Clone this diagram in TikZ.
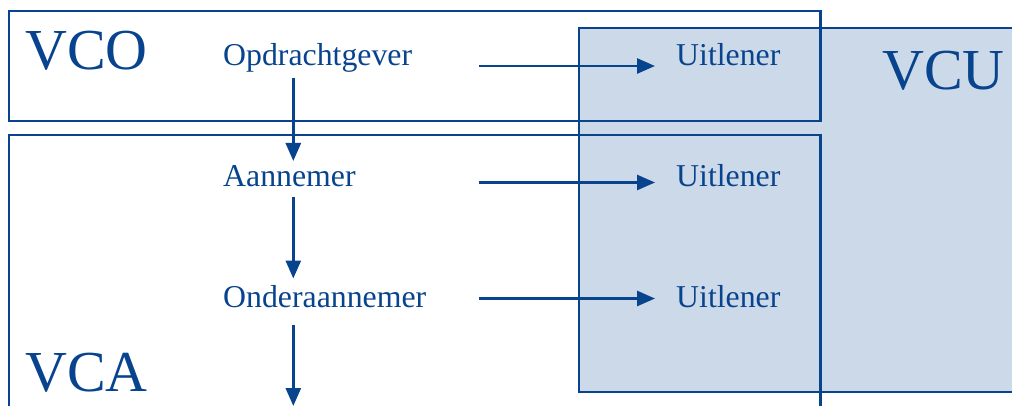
\documentclass[tikz,border=0pt]{standalone}
\usepackage{fontspec}
\setmainfont{Liberation Serif}
\usetikzlibrary{arrows.meta}
\definecolor{dblue}{RGB}{8,68,142}
\definecolor{lblue}{RGB}{204,217,232}
\begin{document}
\begin{tikzpicture}[x=1pt,y=-1pt,
  frame/.style={draw=dblue,line width=2.8pt},
  lbl/.style={text=dblue,inner sep=0pt,anchor=base west,font=\fontsize{31.8}{36}\selectfont},
  big/.style={text=dblue,inner sep=0pt,anchor=base west,font=\fontsize{58}{64}\selectfont},
  conn/.style={draw=dblue,line width=2.8pt,-{Triangle[length=18pt,width=15pt]}}]
\useasboundingbox (0,0) rectangle (1012,406);
\clip (0,0) rectangle (1012,406);
% VCU shaded box
\path[frame,fill=lblue] (579,28) rectangle (1040,392);
% VCO and VCA frames
\path[frame] (9,11) rectangle (820.5,121);
\path[frame] (9,135) rectangle (820.5,430);
% big labels
\node[big] (vco) at (25,70) {VCO};
\node[big] (vca) at (25,391) {VCA};
\node[big] (vcu) at (882,90) {VCU};
% text nodes
\node[lbl] (opd) at (223,66) {Opdrachtgever};
\node[lbl] (aan) at (223,187) {Aannemer};
\node[lbl] (ond) at (223,307) {Onderaannemer};
\node[lbl] (u1) at (676,66) {Uitlener};
\node[lbl] (u2) at (676,187) {Uitlener};
\node[lbl] (u3) at (676,307) {Uitlener};
% connector end points
\coordinate (h1s) at (479,66);   \coordinate (h1e) at (655,66);
\coordinate (h2s) at (479,182.5);\coordinate (h2e) at (655,182.5);
\coordinate (h3s) at (479,298.5);\coordinate (h3e) at (655,298.5);
\coordinate (v1s) at (293.3,78); \coordinate (v1e) at (293.3,161);
\coordinate (v2s) at (293.3,197);\coordinate (v2e) at (293.3,278.5);
\coordinate (v3s) at (293.3,325);\coordinate (v3e) at (293.3,406);
% connectors
\draw[conn] (h1s) -- (h1e);
\draw[conn] (h2s) -- (h2e);
\draw[conn] (h3s) -- (h3e);
\draw[conn] (v1s) -- (v1e);
\draw[conn] (v2s) -- (v2e);
\draw[conn] (v3s) -- (v3e);
\end{tikzpicture}
\end{document}
